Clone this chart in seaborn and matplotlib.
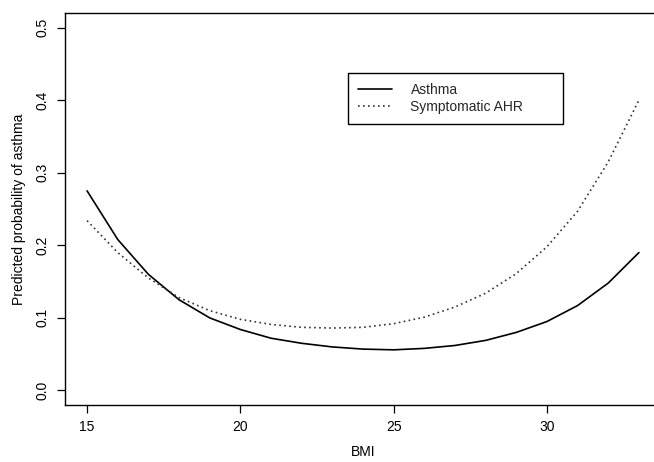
"""Predicted probability of asthma by BMI (R base-graphics look)."""

import matplotlib

matplotlib.use("Agg")
import matplotlib.pyplot as plt
import pandas as pd
import seaborn as sns
from matplotlib.lines import Line2D

# --------------------------------------------------------------------------- #
# Data
# --------------------------------------------------------------------------- #
BMI = [15, 16, 17, 18, 19, 20, 21, 22, 23, 24, 25, 26, 27, 28, 29, 30, 31, 32, 33]
ASTHMA = [0.275, 0.208, 0.160, 0.125, 0.100, 0.084, 0.072, 0.065, 0.060, 0.057,
          0.056, 0.058, 0.062, 0.069, 0.080, 0.095, 0.117, 0.148, 0.190]
SYMPT_AHR = [0.234, 0.190, 0.155, 0.128, 0.110, 0.098, 0.091, 0.087, 0.086, 0.087,
             0.092, 0.101, 0.115, 0.134, 0.161, 0.198, 0.247, 0.315, 0.400]
SERIES = ["Asthma", "Symptomatic AHR"]
X_TICKS = [15, 20, 25, 30]
Y_TICKS = [0.0, 0.1, 0.2, 0.3, 0.4, 0.5]

df = pd.DataFrame({
    "BMI": BMI * 2,
    "prob": ASTHMA + SYMPT_AHR,
    "group": [SERIES[0]] * len(BMI) + [SERIES[1]] * len(BMI),
})

# --------------------------------------------------------------------------- #
# Styling
# --------------------------------------------------------------------------- #
sns.set_theme(style="white")
plt.rcParams["font.family"] = ["Liberation Sans", "DejaVu Sans"]
FS = 10
DOT = (0, (1, 2))

fig = plt.figure(figsize=(6.54, 4.62), dpi=100)
# right spine sits just past the image edge, as in the cropped reference
ax = fig.add_axes([65 / 654, 1 - 405 / 462, 596 / 654, 392 / 462])

sns.lineplot(data=df, x="BMI", y="prob", hue="group", style="group",
             hue_order=SERIES, style_order=SERIES,
             palette=["black", "#333333"],
             dashes={SERIES[0]: "", SERIES[1]: (1, 2)},
             linewidth=1.2, ax=ax, legend=False)

ax.set_xlim(14.28, 33.72)
ax.set_ylim(-0.02, 0.52)
ax.set_xticks(X_TICKS)
ax.set_xticklabels([str(t) for t in X_TICKS], fontsize=FS)
ax.set_yticks(Y_TICKS)
ax.set_yticklabels([f"{t:.1f}" for t in Y_TICKS], fontsize=FS, rotation=90, va="center")
ax.tick_params(axis="both", direction="out", length=6, width=0.9, color="black",
               left=True, bottom=True, pad=5, labelcolor="black")
for sp in ax.spines.values():
    sp.set_visible(True)
    sp.set_color("black")
    sp.set_linewidth(1.0)

ax.set_xlabel("BMI", fontsize=FS, labelpad=8, color="black")
ax.set_ylabel("Predicted probability of asthma", fontsize=FS, labelpad=7, color="black")

handles = [Line2D([0], [0], color="black", lw=1.2),
           Line2D([0], [0], color="#333333", lw=1.2, linestyle=DOT)]
leg = ax.legend(handles, SERIES, loc="upper left", mode="expand",
                bbox_to_anchor=(348 / 654, 1 - 121 / 462, 215 / 654, 48 / 462),
                bbox_transform=fig.transFigure,
                fontsize=FS, frameon=True, fancybox=False, edgecolor="black",
                handlelength=2.5, handletextpad=1.3, borderpad=0.7,
                labelspacing=0.25, borderaxespad=0)
leg.get_frame().set_linewidth(1.0)
leg.get_frame().set_alpha(1)

fig.savefig("out.png", dpi=100)
